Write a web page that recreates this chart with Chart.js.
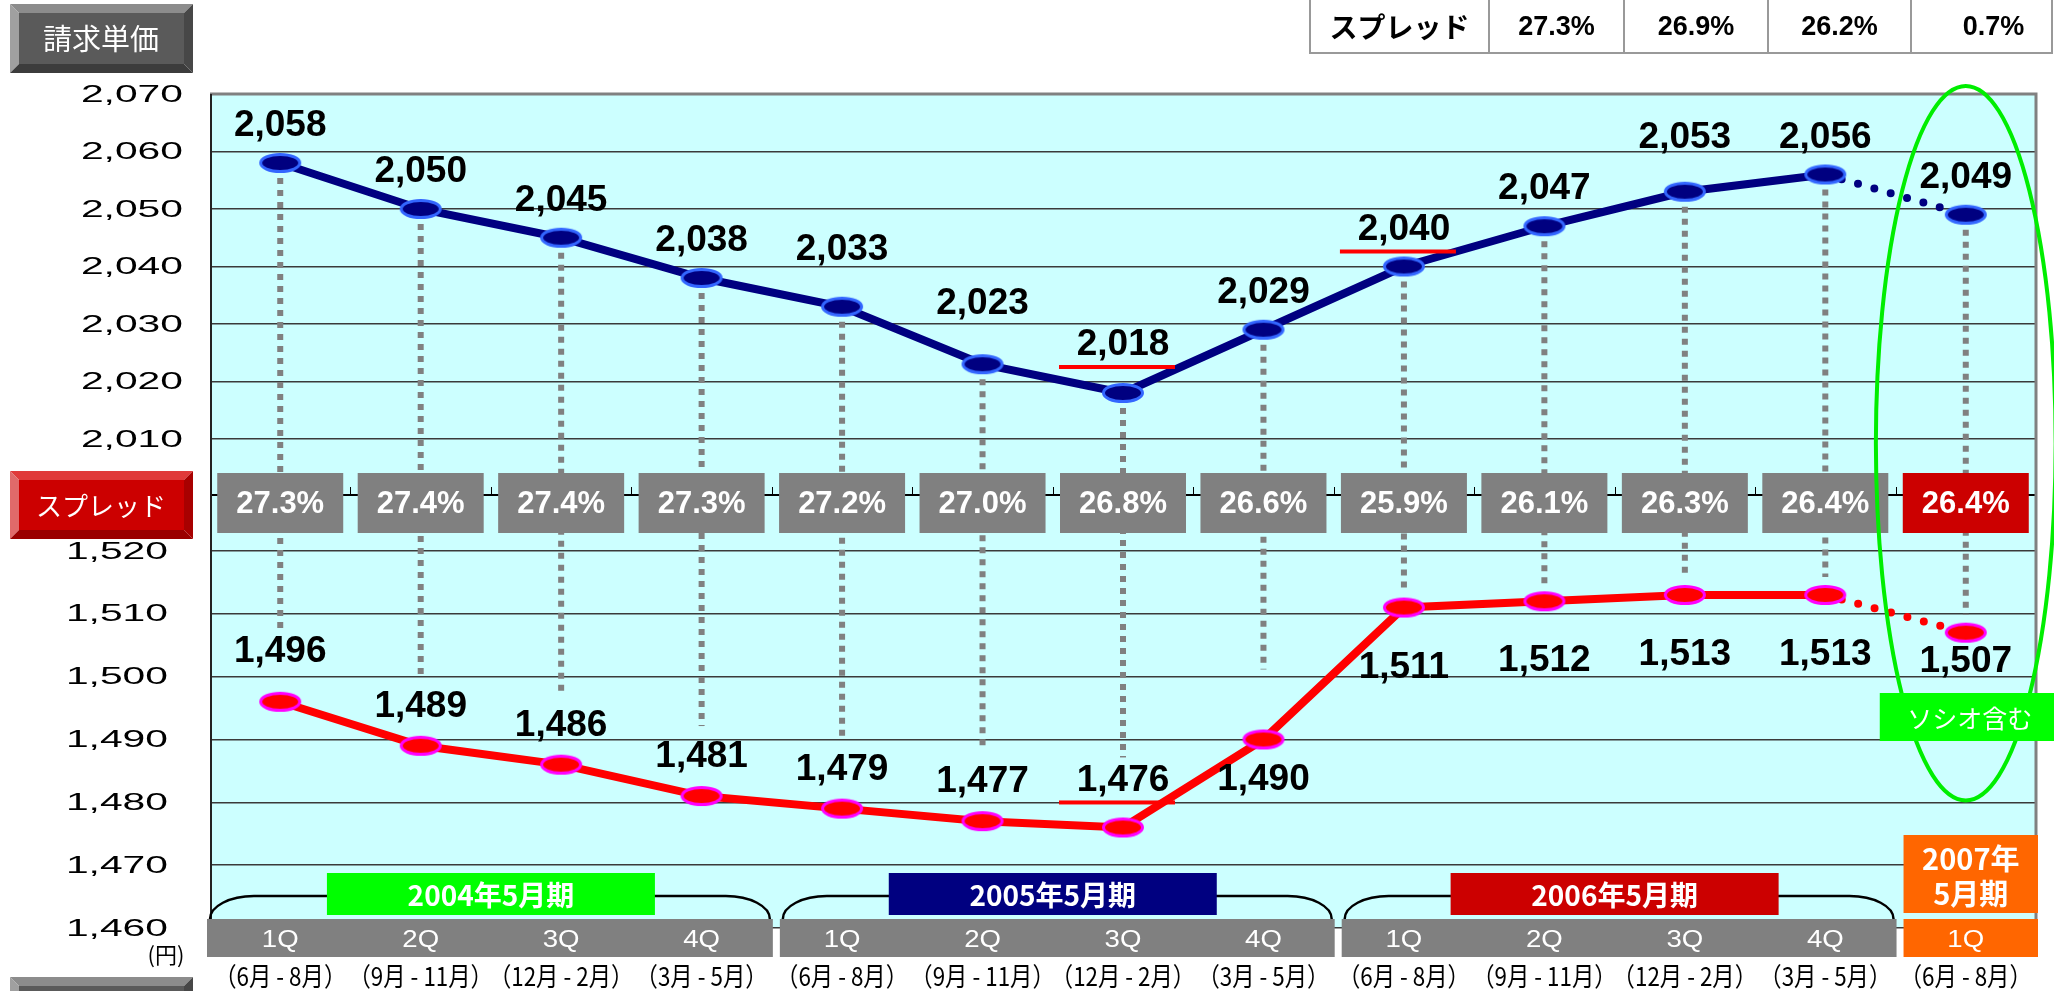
<!DOCTYPE html>
<html>
<head>
<meta charset="utf-8">
<script src="https://cdn.jsdelivr.net/npm/chart.js@4.4.0/dist/chart.umd.min.js"></script>
<style>
  html, body { margin: 0; padding: 0; background: #fff; }
  canvas { display: block; }
</style>
</head>
<body>
<canvas id="tanka" width="2054" height="991"></canvas>
<script>
// 四半期ラベル
var quarters = ['1Q','2Q','3Q','4Q','1Q','2Q','3Q','4Q','1Q','2Q','3Q','4Q','1Q'];
var months = ['（6月 - 8月）','（9月 - 11月）','（12月 - 2月）','（3月 - 5月）',
              '（6月 - 8月）','（9月 - 11月）','（12月 - 2月）','（3月 - 5月）',
              '（6月 - 8月）','（9月 - 11月）','（12月 - 2月）','（3月 - 5月）',
              '（6月 - 8月）'];
// 期ごとの区切り
var fiscalYears = ['2004年5月期','2005年5月期','2006年5月期','2007年5月期'];
var fiscalFirst = [0, 4, 8, 12];
var fiscalLast = [3, 7, 11, 12];

// 上段：請求単価、下段：単価
var seikyuTanka = [2058,2050,2045,2038,2033,2023,2018,2029,2040,2047,2053,2056,2049];
var kabuTanka = [1496,1489,1486,1481,1479,1477,1476,1490,1511,1512,1513,1513,1507];
var spread = [27.3,27.4,27.4,27.3,27.2,27.0,26.8,26.6,25.9,26.1,26.3,26.4,26.4];

// 軸の範囲
var upperRange = [2010, 2070];
var lowerRange = [1460, 1520];

// 右上の表
var tableHead = 'スプレッド';
var tableValues = ['27.3%','26.9%','26.2%','0.7%'];

// 赤い下線をつける点
var underlineUpper = [6, 8];
var underlineLower = [6];

var SANS = '"Liberation Sans", Arial, sans-serif';
var JP = '"Noto Sans CJK JP", "Noto Sans", sans-serif';

function fmt(v) {
  return v.toLocaleString('en-US');
}

function ellipseMarker(fill, stroke) {
  var c = document.createElement('canvas');
  c.width = 46; c.height = 24;
  var g = c.getContext('2d');
  g.beginPath();
  g.ellipse(23, 12, 19.5, 8.5, 0, 0, Math.PI * 2);
  g.fillStyle = fill;
  g.fill();
  g.lineWidth = 3;
  g.strokeStyle = stroke;
  g.stroke();
  return c;
}

function stretched(ctx, text, x, y, sx, align) {
  ctx.save();
  ctx.translate(x, y);
  ctx.scale(sx, 1);
  ctx.textAlign = align;
  ctx.fillText(text, 0, 0);
  ctx.restore();
}

function bevelButton(ctx, x, y, w, h, b, base, light, light2, dark, dark2) {
  ctx.fillStyle = light;
  ctx.beginPath(); ctx.moveTo(x, y); ctx.lineTo(x + w, y); ctx.lineTo(x + w - b, y + b); ctx.lineTo(x + b, y + b); ctx.closePath(); ctx.fill();
  ctx.fillStyle = light2;
  ctx.beginPath(); ctx.moveTo(x, y); ctx.lineTo(x + b, y + b); ctx.lineTo(x + b, y + h - b); ctx.lineTo(x, y + h); ctx.closePath(); ctx.fill();
  ctx.fillStyle = dark;
  ctx.beginPath(); ctx.moveTo(x, y + h); ctx.lineTo(x + b, y + h - b); ctx.lineTo(x + w - b, y + h - b); ctx.lineTo(x + w, y + h); ctx.closePath(); ctx.fill();
  ctx.fillStyle = dark2;
  ctx.beginPath(); ctx.moveTo(x + w, y); ctx.lineTo(x + w, y + h); ctx.lineTo(x + w - b, y + h - b); ctx.lineTo(x + w - b, y + b); ctx.closePath(); ctx.fill();
  ctx.fillStyle = base;
  ctx.fillRect(x + b, y + b, w - 2 * b, h - 2 * b);
}

// ラベルの上げ幅（上段）
function upperLift(i) {
  if (i === 4) return 57;
  if (i === 5) return 60;
  if (i === 6) return 48;
  if (i === 10) return 54;
  return 37;
}

var bgPlugin = {
  id: 'bg',
  beforeDraw: function (chart) {
    var ctx = chart.ctx, a = chart.chartArea;
    ctx.save();
    ctx.fillStyle = '#fff';
    ctx.fillRect(0, 0, chart.width, chart.height);
    ctx.fillStyle = '#ccffff';
    ctx.fillRect(a.left, a.top, a.right - a.left, a.bottom - a.top);
    ctx.restore();
  },
  beforeDatasetsDraw: function (chart) {
    // 縦の点線
    var ctx = chart.ctx, x = chart.scales.x, yu = chart.scales.y, yl = chart.scales.y2;
    ctx.save();
    ctx.strokeStyle = '#808080';
    ctx.lineWidth = 6;
    ctx.setLineDash([6, 6]);
    for (var i = 0; i < seikyuTanka.length; i++) {
      var px = x.getPixelForValue(i);
      var top = yu.getPixelForValue(seikyuTanka[i]) + 15;
      var ly = yl.getPixelForValue(kabuTanka[i]);
      var end = i < 8 ? ly - 70 : ly - 18;
      ctx.beginPath();
      ctx.moveTo(px, top);
      ctx.lineTo(px, end);
      ctx.stroke();
    }
    ctx.restore();
  },
  afterDatasetsDraw: function (chart) {
    var ctx = chart.ctx, a = chart.chartArea;
    var x = chart.scales.x, yu = chart.scales.y, yl = chart.scales.y2, yb = chart.scales.yb;
    var step = x.getPixelForValue(1) - x.getPixelForValue(0);
    ctx.save();

    // スプレッド帯
    var mid = yb.getPixelForValue(1);
    ctx.strokeStyle = '#000';
    ctx.lineWidth = 1;
    for (var k = 1; k < spread.length; k++) {
      var bx = Math.round(x.getPixelForValue(k) - step / 2) + 0.5;
      ctx.beginPath(); ctx.moveTo(bx, mid); ctx.lineTo(bx, mid - 8); ctx.stroke();
    }
    ctx.font = 'bold 31px ' + SANS;
    ctx.textAlign = 'center';
    ctx.textBaseline = 'middle';
    spread.forEach(function (v, i) {
      var cx = x.getPixelForValue(i);
      ctx.fillStyle = i === spread.length - 1 ? '#cc0000' : '#808080';
      ctx.fillRect(cx - 63, mid - 22, 126, 60);
      ctx.fillStyle = '#fff';
      ctx.fillText(v.toFixed(1) + '%', cx, mid + 9);
    });

    // 数値ラベル
    ctx.font = 'bold 37px ' + SANS;
    seikyuTanka.forEach(function (v, i) {
      var cx = x.getPixelForValue(i), ly = yu.getPixelForValue(v) - upperLift(i);
      ctx.fillStyle = '#000';
      ctx.fillText(fmt(v), cx, ly);
      if (underlineUpper.indexOf(i) >= 0) {
        ctx.fillStyle = '#ff0000';
        ctx.fillRect(cx - 64, ly + 20, 116, 4);
      }
    });
    kabuTanka.forEach(function (v, i) {
      var cx = x.getPixelForValue(i), py = yl.getPixelForValue(v), ly;
      if (i === 0) ly = py - 50;
      else if (i === 6) ly = py - 47;
      else if (i < 7) ly = py - 39;
      else if (i === 7) ly = py + 40;
      else if (i < 12) ly = py + 60;
      else ly = py + 29;
      ctx.fillStyle = '#000';
      ctx.fillText(fmt(v), cx, ly);
      if (underlineLower.indexOf(i) >= 0) {
        ctx.fillStyle = '#ff0000';
        ctx.fillRect(cx - 64, ly + 20, 116, 4);
      }
    });

    // 枠
    ctx.strokeStyle = '#808080';
    ctx.lineWidth = 3;
    ctx.beginPath();
    ctx.moveTo(a.left, a.top); ctx.lineTo(a.right, a.top); ctx.lineTo(a.right, a.bottom);
    ctx.stroke();
    ctx.strokeStyle = '#222';
    ctx.lineWidth = 2;
    ctx.beginPath(); ctx.moveTo(a.left + 1, a.top); ctx.lineTo(a.left + 1, a.bottom); ctx.stroke();

    // 期ごとの四半期バー、括弧、期ラベル
    var barTop = a.bottom - 9, barH = 38;
    var yearColors = ['#00ff00', '#000080', '#cc0000', '#ff6600'];
    fiscalYears.forEach(function (label, g) {
      var left = x.getPixelForValue(fiscalFirst[g]) - step / 2;
      var right = x.getPixelForValue(fiscalLast[g]) + step / 2;
      var last = g === fiscalYears.length - 1;
      var l = g === 0 ? left - 3 : left + 8;
      var r = last ? right + 2 : right + 1;
      ctx.fillStyle = last ? '#ff6600' : '#808080';
      ctx.fillRect(l, barTop, r - l, barH);
      if (!last) {
        ctx.strokeStyle = '#000';
        ctx.lineWidth = 2.5;
        var by = barTop - 23;
        ctx.beginPath();
        ctx.moveTo(l + 3, barTop);
        ctx.ellipse(l + 47, barTop, 44, 23, 0, Math.PI, Math.PI * 1.5);
        ctx.lineTo(r - 47, by);
        ctx.ellipse(r - 47, barTop, 44, 23, 0, Math.PI * 1.5, Math.PI * 2);
        ctx.stroke();
        var cx = (left + right) / 2;
        ctx.fillStyle = yearColors[g];
        ctx.fillRect(cx - 164, barTop - 46, 328, 42);
        ctx.fillStyle = '#fff';
        ctx.font = 'bold 28px ' + JP;
        ctx.fillText(label, cx, barTop - 24);
      } else {
        ctx.fillStyle = '#ff6600';
        ctx.fillRect(l, barTop - 84, r - l, 78);
        ctx.fillStyle = '#fff';
        ctx.font = 'bold 29px ' + JP;
        var cut = label.indexOf('年') + 1;
        ctx.fillText(label.slice(0, cut), (l + r) / 2, barTop - 60);
        ctx.fillText(label.slice(cut), (l + r) / 2, barTop - 25);
      }
    });
    ctx.fillStyle = '#fff';
    ctx.font = '24px ' + SANS;
    quarters.forEach(function (q, i) {
      stretched(ctx, q, x.getPixelForValue(i), barTop + 21, 1.15, 'center');
    });
    ctx.fillStyle = '#000';
    ctx.font = '26px ' + JP;
    months.forEach(function (m, i) {
      stretched(ctx, m, x.getPixelForValue(i), barTop + 57, 0.86, 'center');
    });

    // 緑の楕円とソシオ含む
    var ex = x.getPixelForValue(seikyuTanka.length - 1);
    var etop = yu.getPixelForValue(2071.4), ebot = yl.getPixelForValue(1480.3);
    ctx.strokeStyle = '#00ee00';
    ctx.lineWidth = 4;
    ctx.beginPath();
    ctx.ellipse(ex, (etop + ebot) / 2, step * 0.64, (ebot - etop) / 2, 0, 0, Math.PI * 2);
    ctx.stroke();
    var sy = yl.getPixelForValue(1497.4);
    ctx.fillStyle = '#00ff00';
    ctx.fillRect(ex - 86, sy, 200, 48);
    ctx.fillStyle = '#fff';
    ctx.font = '25px ' + JP;
    ctx.fillText('ソシオ含む', ex + 4, sy + 25);

    // 縦軸の目盛ラベル
    ctx.fillStyle = '#000';
    ctx.font = '24px ' + SANS;
    yu.ticks.forEach(function (t) {
      stretched(ctx, fmt(t.value), 183, yu.getPixelForValue(t.value) + 1, 1.7, 'right');
    });
    yl.ticks.forEach(function (t) {
      stretched(ctx, fmt(t.value), 168, yl.getPixelForValue(t.value) + 1, 1.7, 'right');
    });
    ctx.font = '22px ' + JP;
    ctx.fillText('(円)', 166, a.bottom + 27);

    // 左のボタン
    bevelButton(ctx, 10, 4, 183, 69, 9, '#5a5a5a', '#8c8c8c', '#a0a0a0', '#3c3c3c', '#474747');
    ctx.fillStyle = '#fff';
    ctx.font = '29px ' + JP;
    ctx.fillText('請求単価', 101, 39);
    var rb = mid + 10;
    bevelButton(ctx, 10, rb - 34, 183, 68, 9, '#cc0000', '#e03a3a', '#e06a6a', '#9a0000', '#a80000');
    ctx.fillStyle = '#fff';
    ctx.font = '26px ' + JP;
    ctx.fillText('スプレッド', 101, rb + 1);
    bevelButton(ctx, 10, 977, 183, 60, 9, '#5a5a5a', '#8c8c8c', '#a0a0a0', '#3c3c3c', '#474747');

    // 右上の表
    var cols = [1310, 1489, 1624, 1768, 1911, 2052];
    ctx.strokeStyle = '#999';
    ctx.lineWidth = 2;
    ctx.strokeRect(cols[0], -2, cols[5] - cols[0], 55);
    for (var c = 1; c < 5; c++) {
      ctx.beginPath(); ctx.moveTo(cols[c], 0); ctx.lineTo(cols[c], 53); ctx.stroke();
    }
    ctx.fillStyle = '#000';
    ctx.font = 'bold 28px ' + JP;
    ctx.fillText(tableHead, (cols[0] + cols[1]) / 2, 27);
    ctx.font = 'bold 27px ' + SANS;
    tableValues.forEach(function (v, i) {
      ctx.fillText(v, (cols[i + 1] + cols[i + 2]) / 2 + (i === 3 ? 12 : 0), 28);
    });

    ctx.restore();
  }
};

var ctx = document.getElementById('tanka');
var chart = new Chart(ctx, {
  type: 'line',
  data: {
    labels: quarters,
    datasets: [
      {
        label: '請求単価',
        data: seikyuTanka,
        yAxisID: 'y',
        borderColor: '#000080',
        borderWidth: 8,
        borderCapStyle: 'round',
        pointStyle: ellipseMarker('#000080', '#3366ff'),
        pointRadius: 10,
        segment: {
          borderDash: function (c) { return c.p1DataIndex === seikyuTanka.length - 1 ? [0, 17] : undefined; }
        },
        tension: 0
      },
      {
        label: '単価',
        data: kabuTanka,
        yAxisID: 'y2',
        borderColor: '#ff0000',
        borderWidth: 8,
        borderCapStyle: 'round',
        pointStyle: ellipseMarker('#ff0000', '#ff00ff'),
        pointRadius: 10,
        segment: {
          borderDash: function (c) { return c.p1DataIndex === kabuTanka.length - 1 ? [0, 17] : undefined; }
        },
        tension: 0
      }
    ]
  },
  options: {
    responsive: false,
    animation: false,
    events: [],
    devicePixelRatio: 1,
    layout: { padding: { top: 94, right: 16, bottom: 63, left: 0 } },
    plugins: { legend: { display: false }, tooltip: { enabled: false } },
    scales: {
      x: { type: 'category', offset: true, display: false },
      y2: {
        type: 'linear', position: 'left', stack: 'tanka', stackWeight: 377,
        min: lowerRange[0], max: lowerRange[1],
        ticks: { stepSize: 10, display: false },
        grid: { color: '#3a3a3a', lineWidth: 1.5, drawTicks: false },
        border: { display: false },
        afterFit: function (s) { s.width = 210; }
      },
      yb: {
        type: 'linear', position: 'left', stack: 'tanka', stackWeight: 112,
        min: 0, max: 2,
        ticks: { stepSize: 1, display: false },
        grid: { color: function (c) { return c.tick.value === 1 ? '#000' : 'rgba(0,0,0,0)'; }, lineWidth: 2, drawTicks: false },
        border: { display: false },
        afterFit: function (s) { s.width = 210; }
      },
      y: {
        type: 'linear', position: 'left', stack: 'tanka', stackWeight: 345,
        min: upperRange[0], max: upperRange[1],
        ticks: { stepSize: 10, display: false },
        grid: { color: '#3a3a3a', lineWidth: 1.5, drawTicks: false },
        border: { display: false },
        afterFit: function (s) { s.width = 210; }
      }
    }
  },
  plugins: [bgPlugin]
});
</script>
</body>
</html>
